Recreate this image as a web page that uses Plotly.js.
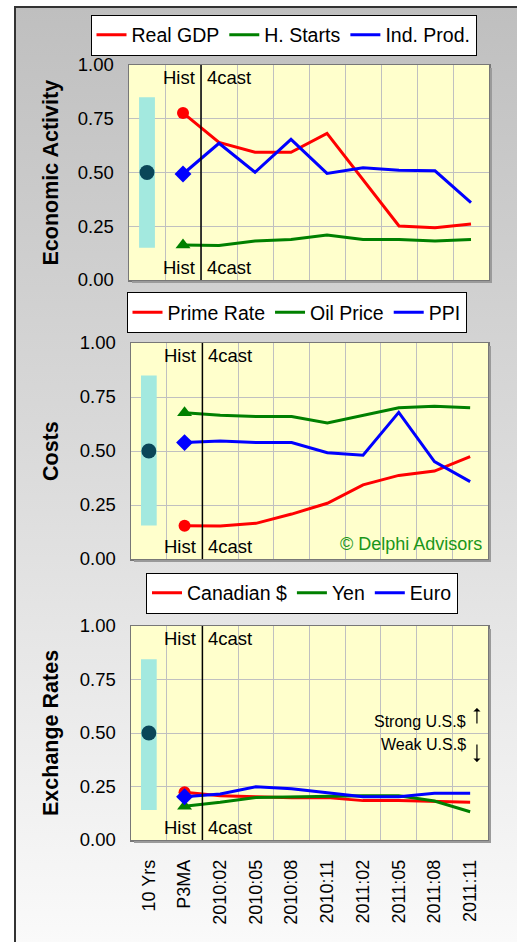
<!DOCTYPE html>
<html>
<head>
<meta charset="utf-8">
<script src="https://cdn.plot.ly/plotly-3.0.1.min.js"></script>
<style>
  html, body { margin: 0; padding: 0; width: 517px; height: 942px; overflow: hidden; background: #ffffff; }
  #frame { position: absolute; left: 14px; top: 6px; width: 520px; height: 950px;
           border-left: 2px solid #333; border-top: 2px solid #333;
           background: linear-gradient(to bottom, #bfbfbf 0%, #d9d9d9 45%, #fbfbfb 100%); }
  #chart { position: absolute; left: 0; top: 0; width: 517px; height: 942px; }
</style>
</head>
<body>
<div id="frame"></div>
<div id="chart"></div>
<script>
// ---- data ----
const categories = ['10 Yrs', 'P3MA', '2010:02', '2010:05', '2010:08', '2010:11', '2011:02', '2011:05', '2011:08', '2011:11'];
const periods = categories.slice(1);

const realGDP  = [0.777, 0.640, 0.594, 0.594, 0.682, 0.468, 0.251, 0.243, 0.260];
const hStarts  = [0.163, 0.160, 0.181, 0.188, 0.209, 0.188, 0.188, 0.181, 0.188];
const indProd  = [0.493, 0.636, 0.501, 0.654, 0.496, 0.522, 0.510, 0.508, 0.360];

const primeRate = [0.154, 0.153, 0.165, 0.208, 0.258, 0.343, 0.387, 0.407, 0.474];
const oilPrice  = [0.677, 0.665, 0.660, 0.660, 0.630, 0.665, 0.700, 0.707, 0.700];
const ppi       = [0.539, 0.546, 0.539, 0.539, 0.492, 0.480, 0.679, 0.451, 0.358];

const canadian = [0.223, 0.207, 0.202, 0.198, 0.198, 0.184, 0.184, 0.181, 0.176];
const yen      = [0.158, 0.176, 0.199, 0.202, 0.206, 0.207, 0.207, 0.182, 0.132];
const euro     = [0.202, 0.215, 0.249, 0.240, 0.221, 0.202, 0.202, 0.218, 0.218];

const tenYrMid  = [0.50, 0.50, 0.50];
const tenYrLow  = [0.150, 0.155, 0.140];
const tenYrHigh = [0.850, 0.850, 0.845];

const panelTitles = ['Economic Activity', 'Costs', 'Exchange Rates'];
const yTicks = [0, 0.25, 0.5, 0.75, 1];

// ---- build ----
const FONT = 'Liberation Sans, Arial, sans-serif';
const RED = '#ff0000', GREEN = '#008000', BLUE = '#0000ff';
const W = 517, H = 942;

const panels = [
  { series: [['Real GDP', realGDP, RED, 'circle'], ['H. Starts', hStarts, GREEN, 'triangle-up'], ['Ind. Prod.', indProd, BLUE, 'diamond']],
    px: [129, 489], py: [65, 280], legend: [283.5, 35] },
  { series: [['Prime Rate', primeRate, RED, 'circle'], ['Oil Price', oilPrice, GREEN, 'triangle-up'], ['PPI', ppi, BLUE, 'diamond']],
    px: [131, 488], py: [343, 559], legend: [296.5, 312.5] },
  { series: [['Canadian $', canadian, RED, 'circle'], ['Yen', yen, GREEN, 'triangle-up'], ['Euro', euro, BLUE, 'diamond']],
    px: [131, 488], py: [626, 840], legend: [302, 593] }
];

const traces = [];
const layout = {
  width: W, height: H,
  margin: { l: 0, r: 0, t: 0, b: 0 },
  paper_bgcolor: 'rgba(0,0,0,0)',
  plot_bgcolor: '#ffffcc',
  font: { family: FONT, size: 17, color: '#000' },
  showlegend: true,
  annotations: [],
  shapes: []
};

const divIdx = categories.indexOf('2010:02') - 0.5;

panels.forEach((p, i) => {
  const n = i === 0 ? '' : String(i + 1);
  const xa = 'x' + n, ya = 'y' + n;
  const legName = 'legend' + n;
  const xdom = [p.px[0] / W, p.px[1] / W];
  const ydom = [1 - p.py[1] / H, 1 - p.py[0] / H];

  layout['xaxis' + n] = {
    domain: xdom, anchor: ya, type: 'category',
    categoryorder: 'array', categoryarray: categories,
    range: [-0.5, categories.length - 0.5],
    tickson: 'boundaries', ticks: '',
    showgrid: true, gridcolor: '#c0c0c0', gridwidth: 1,
    showline: true, mirror: true, linecolor: '#777777', linewidth: 1.5,
    showticklabels: i === 2, tickangle: -90, ticklabelstandoff: 11,
    tickfont: { family: FONT, size: 18, color: '#000' },
    fixedrange: true, zeroline: false
  };
  layout['yaxis' + n] = {
    domain: ydom, anchor: xa, range: [0, 1],
    tickvals: yTicks, tickformat: '.2f', ticks: '',
    ticklabelstandoff: 10,
    tickfont: { family: FONT, size: 18.5, color: '#000' },
    showgrid: true, gridcolor: '#c0c0c0', gridwidth: 1,
    showline: true, mirror: true, linecolor: '#777777', linewidth: 1.5,
    zeroline: false, fixedrange: true
  };

  layout[legName] = {
    x: p.legend[0] / W, y: 1 - p.legend[1] / H,
    xanchor: 'center', yanchor: 'middle',
    orientation: 'h', bgcolor: '#ffffff',
    bordercolor: '#000000', borderwidth: 1,
    font: { family: FONT, size: 19.5, color: '#000' },
    itemwidth: 30, tracegroupgap: 0
  };

  // shadow strips of plot area (right and bottom)
  layout.shapes.push({
    type: 'rect', xref: 'paper', yref: 'paper', layer: 'above',
    x0: (p.px[1] + 1) / W, x1: (p.px[1] + 3) / W,
    y0: 1 - (p.py[1] + 3) / H, y1: 1 - (p.py[0] + 3) / H,
    fillcolor: '#9a9a9a', line: { width: 0 }
  });
  layout.shapes.push({
    type: 'rect', xref: 'paper', yref: 'paper', layer: 'above',
    x0: (p.px[0] + 3) / W, x1: (p.px[1] + 3) / W,
    y0: 1 - (p.py[1] + 3) / H, y1: 1 - (p.py[1] + 1) / H,
    fillcolor: '#9a9a9a', line: { width: 0 }
  });

  // 10 year range bar
  traces.push({
    type: 'bar', x: [categories[0]], base: [tenYrLow[i]], y: [tenYrHigh[i] - tenYrLow[i]],
    width: 0.44, marker: { color: '#a3e9df', line: { width: 0 } },
    xaxis: xa, yaxis: ya, showlegend: false, hoverinfo: 'skip'
  });
  traces.push({
    type: 'scatter', mode: 'markers', x: [categories[0]], y: [tenYrMid[i]],
    marker: { size: 15, color: '#0a4658' }, xaxis: xa, yaxis: ya, showlegend: false
  });

  p.series.forEach(([name, vals, color, sym]) => {
    traces.push({
      type: 'scatter', mode: 'lines', name: name, x: periods, y: vals,
      line: { color: color, width: 3 }, xaxis: xa, yaxis: ya, legend: legName
    });
  });
  p.series.forEach(([name, vals, color, sym]) => {
    traces.push({
      type: 'scatter', mode: 'markers', x: [periods[0]], y: [vals[0]],
      marker: { size: sym === 'circle' ? 12 : 13, color: color, symbol: sym },
      xaxis: xa, yaxis: ya, showlegend: false
    });
  });

  // Hist / 4cast divider
  layout.shapes.push({
    type: 'line', xref: xa, yref: ya + ' domain', x0: divIdx, x1: divIdx, y0: 0, y1: 1,
    line: { color: '#000000', width: 1.5 }
  });
  [[1, 'top'], [0, 'bottom']].forEach(([yy, anc]) => {
    layout.annotations.push({ xref: xa, yref: ya + ' domain', x: divIdx, y: yy, xanchor: 'right', yanchor: anc,
      xshift: -4, text: 'Hist', showarrow: false, font: { family: FONT, size: 18.5, color: '#000' } });
    layout.annotations.push({ xref: xa, yref: ya + ' domain', x: divIdx, y: yy, xanchor: 'left', yanchor: anc,
      xshift: 4, text: '4cast', showarrow: false, font: { family: FONT, size: 18.5, color: '#000' } });
  });

  // axis title
  layout.annotations.push({
    xref: 'paper', yref: ya + ' domain', x: 51 / W, y: 0.5, xanchor: 'center', yanchor: 'middle',
    text: '<b>' + panelTitles[i] + '</b>', textangle: -90, showarrow: false,
    font: { family: FONT, size: 21.5, color: '#000' }
  });
});

layout.annotations.push({
  xref: 'x2 domain', yref: 'y2 domain', x: 0.99, y: 0.07, xanchor: 'right', yanchor: 'middle',
  text: '© Delphi Advisors', showarrow: false, font: { family: FONT, size: 18, color: '#1a961a' }
});
layout.annotations.push({
  xref: 'x3 domain', yref: 'y3 domain', x: 0.945, y: 0.556, xanchor: 'right', yanchor: 'middle',
  text: 'Strong U.S.$', showarrow: false, font: { family: FONT, size: 16, color: '#000' }
});
layout.annotations.push({
  xref: 'x3 domain', yref: 'y3 domain', x: 0.945, y: 0.444, xanchor: 'right', yanchor: 'middle',
  text: 'Weak U.S.$', showarrow: false, font: { family: FONT, size: 16, color: '#000' }
});
// thin arrows
layout.annotations.push({
  xref: 'x3 domain', yref: 'y3 domain', x: 0.969, y: 0.617, ax: 0, ay: 17, text: '',
  showarrow: true, arrowhead: 1, arrowsize: 1, arrowwidth: 1.2, arrowcolor: '#000', standoff: 0
});
layout.annotations.push({
  xref: 'x3 domain', yref: 'y3 domain', x: 0.969, y: 0.364, ax: 0, ay: -19, text: '',
  showarrow: true, arrowhead: 1, arrowsize: 1, arrowwidth: 1.2, arrowcolor: '#000', standoff: 0
});

Plotly.newPlot('chart', traces, layout, { staticPlot: true, displayModeBar: false });
</script>
</body>
</html>
